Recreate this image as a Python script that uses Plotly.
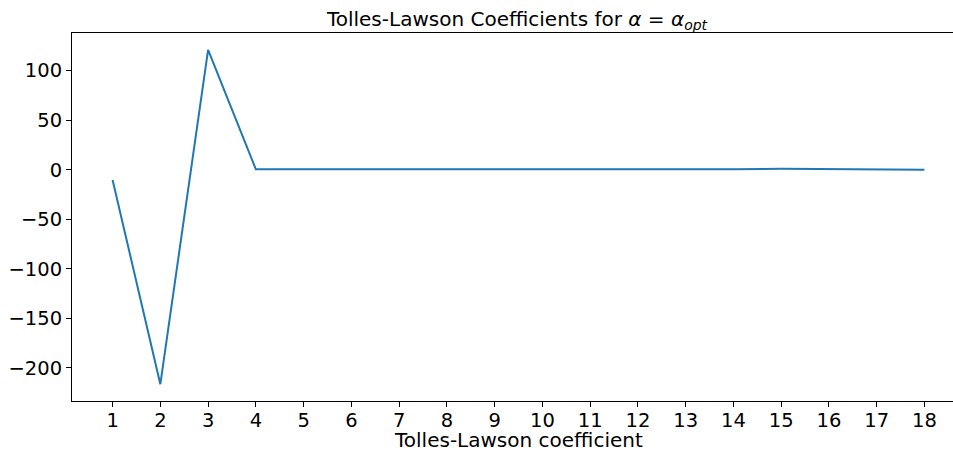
import plotly.graph_objects as go

coef_index = list(range(1, 19))
coef_values = [-10.4, -216.5, 121.0, 0.4, 0.4, 0.4, 0.4, 0.4, 0.4, 0.4, 0.3, 0.0, 0.1, 0.5, 0.9, 0.4, 0.3, 0.0]
y_ticks = [100, 50, 0, -50, -100, -150, -200]
x_label = "Tolles-Lawson coefficient"
title_text = "Tolles-Lawson Coefficients for <i>α</i> = <i>α<sub>opt</sub></i>"

font_family = "DejaVu Sans"
tick_size = 19.5
label_size = 20

# Figure is slightly wider than the 953px window: the reference's right spine is clipped.
W, H = 967, 450
L, R, T, B = 72, 2, 33, 49
plot_h = H - T - B

fig = go.Figure()
fig.add_trace(go.Scatter(
    x=coef_index, y=coef_values, mode="lines",
    line=dict(color="#1f77b4", width=2),
    showlegend=False,
))

fig.update_layout(
    width=W, height=H, autosize=False,
    margin=dict(l=L, r=R, t=T, b=B, pad=0),
    paper_bgcolor="white", plot_bgcolor="white",
    font=dict(family=font_family, size=tick_size, color="black"),
    title=dict(
        text=title_text,
        x=517 / W, xanchor="center",
        y=1 - 19 / H, yanchor="middle",
        font=dict(family=font_family, size=label_size, color="black"),
    ),
)

fig.add_annotation(
    text=x_label, xref="paper", yref="paper",
    x=0.5, y=-(440 - (H - B)) / plot_h, xanchor="center", yanchor="middle",
    showarrow=False, font=dict(family=font_family, size=label_size, color="black"),
)

fig.update_xaxes(
    range=[0.15, 18.85], automargin=False,
    tickmode="array", tickvals=coef_index,
    ticks="outside", ticklen=5, tickwidth=1, tickcolor="black",
    ticklabelstandoff=-3,
    showgrid=False, zeroline=False,
    showline=True, linecolor="black", linewidth=1, mirror=True,
)
fig.update_yaxes(
    range=[-233.5, 138], automargin=False,
    tickmode="array", tickvals=y_ticks,
    ticks="outside", ticklen=5, tickwidth=1, tickcolor="black",
    showgrid=False, zeroline=False,
    showline=True, linecolor="black", linewidth=1, mirror=True,
)

fig.write_html(
    "out.html",
    config={"responsive": False, "displayModeBar": False},
    post_script="document.body.style.margin='0';document.body.style.overflow='hidden';",
)
